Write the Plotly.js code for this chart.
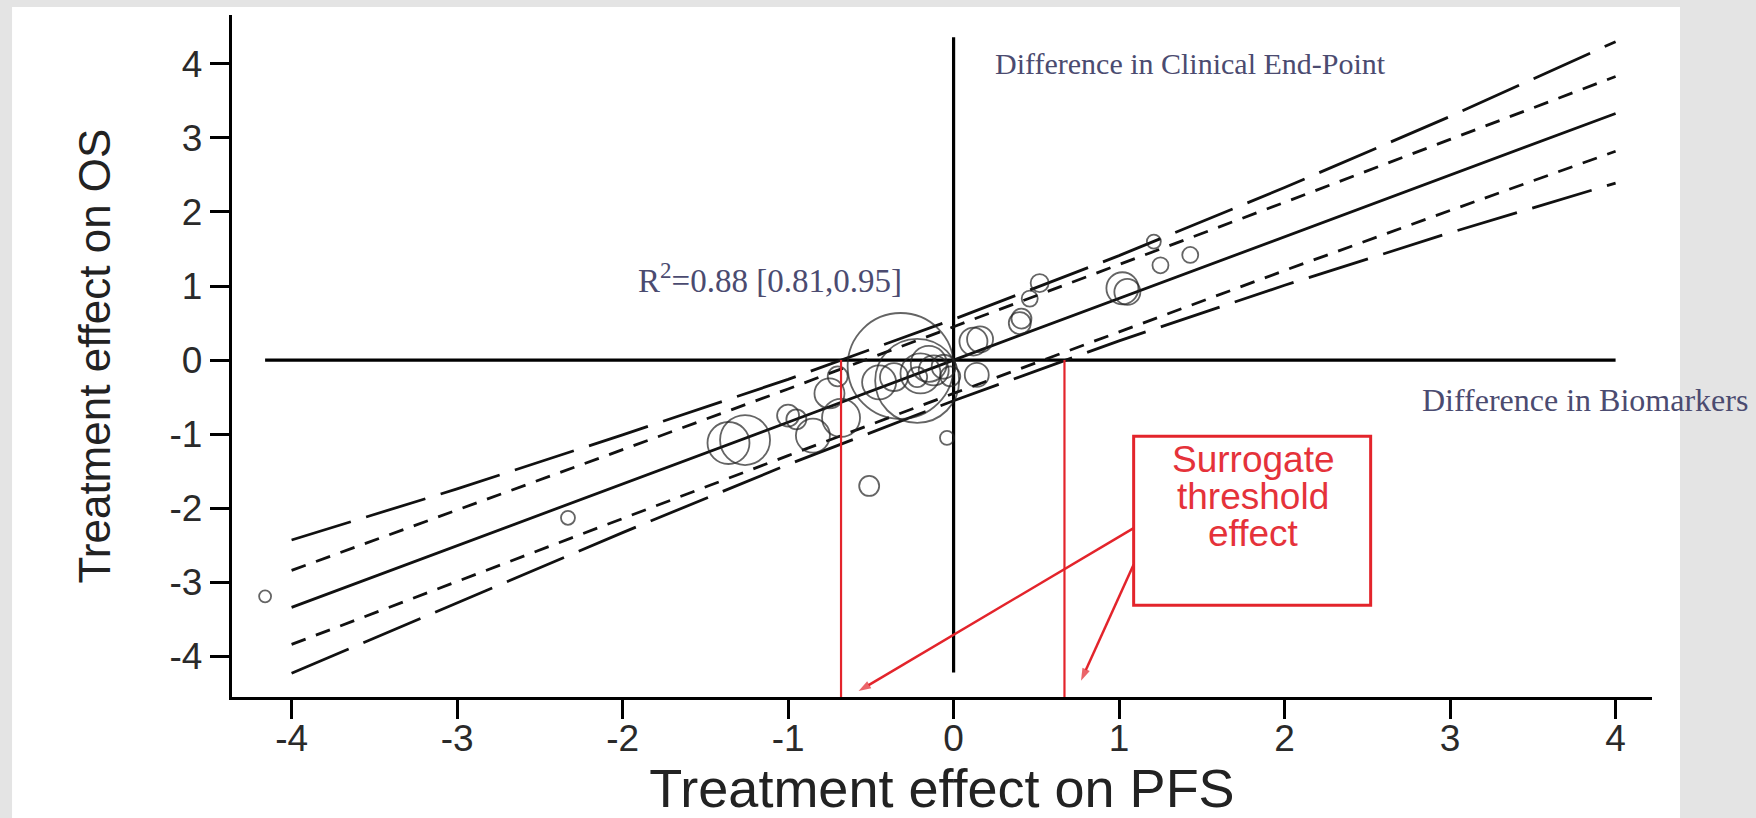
<!DOCTYPE html>
<html>
<head>
<meta charset="utf-8">
<script src="https://cdn.plot.ly/plotly-3.0.1.min.js"></script>
<style>
  html, body { margin: 0; padding: 0; background: #e4e4e4; }
  #chart { width: 1756px; height: 818px; }
</style>
</head>
<body>
<div id="chart"></div>
<script>
// ---- Data ----
const tickValues = [-4, -3, -2, -1, 0, 1, 2, 3, 4];

// Regression line and bands (sampled at these PFS effects)
const bandX      = [-4, -3, -2, -1, 0, 1, 2, 3, 4];
const fitY       = [-3.34, -2.51, -1.67, -0.84, 0.00, 0.83, 1.67, 2.50, 3.33];
const innerUpper = [-2.84, -2.03, -1.21, -0.39, 0.45, 1.28, 2.13, 2.98, 3.83];
const innerLower = [-3.84, -2.99, -2.13, -1.29, -0.45, 0.38, 1.21, 2.02, 2.82];
const outerUpper = [-2.43, -1.74, -1.01, -0.26, 0.55, 1.41, 2.33, 3.29, 4.30];
const outerLower = [-4.23, -3.28, -2.33, -1.41, -0.55, 0.26, 1.01, 1.72, 2.39];

// Trials: treatment effect on PFS (x), on OS (y), bubble size (trial weight)
const trialPFS  = [-4.16, -2.33, -1.36, -1.26, -1.00, -0.95, -0.85, -0.68, -0.70, -0.51,
                   -0.32, -0.22, -0.36, -0.20, -0.12, -0.22, -0.06, -0.02, -0.04, 0.12,
                    0.16,  0.14,  0.40,  0.41,  0.46,  0.52,  1.02,  1.05,  1.25, 1.43,
                    1.21, -0.45, -0.15, -0.75];
const trialOS   = [-3.19, -2.13, -1.12, -1.08, -0.75, -0.80, -1.02, -0.78, -0.22, -1.70,
                   -0.08, -0.28, -0.23, -0.18, -0.14, -0.23, -0.09, -0.22, -1.05, 0.25,
                    0.28, -0.20,  0.50,  0.56,  0.83,  1.04,  0.97,  0.92,  1.28, 1.42,
                    1.60, -0.30, -0.05, -0.45];
const trialSize = [12, 14, 42, 50, 22, 20, 34, 38, 20, 20,
                   106, 84, 28, 40, 30, 20, 24, 20, 14, 28,
                   26, 24, 22, 20, 16, 18, 32, 26, 16, 16,
                   14, 34, 36, 30];

// Surrogate threshold effects (PFS)
const thresholds = [-0.68, 0.67];

// Reference axes drawn inside the plot
const zeroLineX = [-4.16, 4.0];
const zeroLineY = [-4.22, 4.36];

// Box label lines
const boxLines = ['Surrogate', 'threshold', 'effect'];

// ---- Traces ----
const lineStyle = (dash) => ({ color: '#111', width: 2.8, dash: dash });
const red = '#e3242b';
const traces = [
  { x: zeroLineX, y: [0, 0], mode: 'lines', line: { color: '#000', width: 3.2 }, hoverinfo: 'skip' },
  { x: [0, 0], y: zeroLineY, mode: 'lines', line: { color: '#000', width: 3.2 }, hoverinfo: 'skip' },
  { x: bandX, y: outerUpper, mode: 'lines', line: lineStyle('62px,16px') },
  { x: bandX, y: innerUpper, mode: 'lines', line: lineStyle('15px,11px') },
  { x: bandX, y: fitY,       mode: 'lines', line: lineStyle('solid') },
  { x: bandX, y: innerLower, mode: 'lines', line: lineStyle('15px,11px') },
  { x: bandX, y: outerLower, mode: 'lines', line: lineStyle('62px,16px') },
  { x: trialPFS, y: trialOS, mode: 'markers',
    marker: { symbol: 'circle-open', size: trialSize, color: '#222', line: { width: 1.8, color: '#222' } } }
];
thresholds.forEach(t => {
  traces.push({ x: [t, t], y: [0, -4.55], mode: 'lines', line: { color: red, width: 2.2 }, hoverinfo: 'skip' });
});
// arrows from the box to the two thresholds
[[1.088, -2.27, -0.574, -4.47], [1.088, -2.76, 0.77, -4.33]].forEach(a => {
  traces.push({ x: [a[0], a[2]], y: [a[1], a[3]], mode: 'lines+markers', hoverinfo: 'skip',
    line: { color: red, width: 2.5 },
    marker: { symbol: 'arrow', angleref: 'previous', size: [0, 13], color: red, line: { width: 0 } } });
});

// ---- Layout ----
const axisCommon = {
  showgrid: false, zeroline: false, showline: true, linecolor: '#000', linewidth: 3.2,
  ticks: 'outside', ticklen: 19, tickwidth: 3, tickcolor: '#000',
  tickvals: tickValues, ticktext: tickValues.map(String),
  tickfont: { family: 'Liberation Sans, Arial, sans-serif', size: 37, color: '#2a2a2a' },
  fixedrange: true
};

const serif = (size) => ({ family: 'Liberation Serif, Times New Roman, serif', size: size, color: '#4b4b70' });

const annotations = [
  { x: 0.24, y: 4.0, xref: 'x', yref: 'y', xanchor: 'left', yanchor: 'middle', showarrow: false,
    text: 'Difference in Clinical End-Point', font: serif(30) },
  { x: -1.92, y: 1.11, xref: 'x', yref: 'y', xanchor: 'left', yanchor: 'middle', showarrow: false,
    text: 'R<sup>2</sup>=0.88 [0.81,0.95]', font: serif(33) },
  { x: 2.82, y: -0.54, xref: 'x', yref: 'y', xanchor: 'left', yanchor: 'middle', showarrow: false,
    text: 'Difference in Biomarkers', font: serif(32) }
];
const boxLineY = [-1.34, -1.84, -2.34];
boxLines.forEach((t, i) => {
  annotations.push({ x: 1.81, y: boxLineY[i], xref: 'x', yref: 'y', xanchor: 'center', yanchor: 'middle',
    showarrow: false, text: t,
    font: { family: 'Liberation Sans, Arial, sans-serif', size: 37, color: '#e5323a' } });
});

const layout = {
  width: 1756, height: 818,
  margin: { l: 232, r: 104, t: 15, b: 121 },
  paper_bgcolor: '#e4e4e4',
  plot_bgcolor: 'rgba(0,0,0,0)',
  showlegend: false,
  xaxis: Object.assign({}, axisCommon, {
    range: [-4.36, 4.22],
    ticklabelstandoff: -13,
    title: { text: 'Treatment effect on PFS', standoff: 10,
             font: { family: 'Liberation Sans, Arial, sans-serif', size: 54, color: '#222' } }
  }),
  yaxis: Object.assign({}, axisCommon, {
    range: [-4.55, 4.66],
    ticklabelstandoff: 0,
    title: { text: 'Treatment effect on OS', standoff: 46,
             font: { family: 'Liberation Sans, Arial, sans-serif', size: 44, color: '#222' } }
  }),
  shapes: [
    // white panel behind the chart
    { type: 'rect', xref: 'paper', yref: 'paper', x0: -0.1549, x1: 1.0197, y0: -0.18, y1: 1.0117,
      fillcolor: '#ffffff', line: { width: 0 }, layer: 'below' },
    // red annotation box
    { type: 'rect', xref: 'x', yref: 'y', x0: 1.088, x1: 2.52, y0: -3.31, y1: -1.03,
      fillcolor: 'rgba(0,0,0,0)', line: { color: red, width: 3 } }
  ],
  annotations: annotations
};

Plotly.newPlot('chart', traces, layout, { staticPlot: true, displayModeBar: false });
</script>
</body>
</html>
